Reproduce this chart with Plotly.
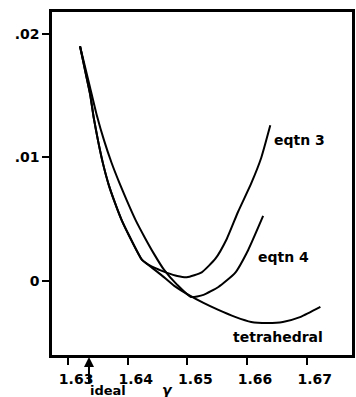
import plotly.graph_objects as go

# ---- data ----
eqtn3_x = [1.6320, 1.6330, 1.6337, 1.6343, 1.6350, 1.6358, 1.6368, 1.6378, 1.6390, 1.6403,
           1.6424, 1.6439, 1.6453, 1.6466, 1.6483, 1.6499, 1.6524, 1.6547, 1.6566, 1.6585,
           1.6607, 1.6624, 1.6639]
eqtn3_y = [0.0190, 0.0167, 0.0151, 0.0132, 0.0114, 0.0096, 0.0078, 0.0064, 0.0049, 0.0036,
           0.0017, 0.0012, 0.0009, 0.00065, 0.0004, 0.0003, 0.0007, 0.0018, 0.0034, 0.0056,
           0.0079, 0.0100, 0.0126]

eqtn4_x = [1.6320, 1.6337, 1.6348, 1.6360, 1.6373, 1.6386, 1.6398, 1.6413, 1.6428, 1.6444,
           1.6461, 1.6483, 1.6506, 1.6527, 1.6552, 1.6580, 1.6602, 1.6627]
eqtn4_y = [0.0190, 0.01563, 0.01344, 0.01142, 0.00955, 0.00794, 0.00656, 0.00494, 0.00356, 0.00219,
           0.00089, -0.00032, -0.00130, -0.00113, -0.00049, 0.00065, 0.00251, 0.00526]

tetra_x = [1.6320, 1.6330, 1.6337, 1.6343, 1.6350, 1.6358, 1.6368, 1.6378, 1.6390, 1.6403,
           1.6424, 1.6439, 1.6456, 1.6478, 1.6502, 1.6527, 1.6552, 1.6580, 1.6607, 1.6635,
           1.6660, 1.6690, 1.6723]
tetra_y = [0.0190, 0.0167, 0.0151, 0.0132, 0.0114, 0.0096, 0.0078, 0.0064, 0.0049, 0.0036,
           0.0017, 0.00113, 0.00049, -0.0004, -0.00113, -0.00178, -0.00235, -0.00291, -0.00332, -0.0034,
           -0.00332, -0.00291, -0.00211]

x_ticks = [1.63, 1.64, 1.65, 1.66, 1.67]
x_tick_text = ["1.63", "1.64", "1.65", "1.66", "1.67"]
y_ticks = [0.0, 0.01, 0.02]
y_tick_text = ["0", ".01", ".02"]
ideal_gamma = 1.6335
gamma_label_x = 1.6466

FONT = "DejaVu Sans"

fig = go.Figure()
for xs, ys in [(eqtn3_x, eqtn3_y), (eqtn4_x, eqtn4_y), (tetra_x, tetra_y)]:
    fig.add_trace(go.Scatter(x=xs, y=ys, mode="lines",
                             line=dict(color="black", width=2, shape="spline", smoothing=0.5),
                             showlegend=False, hoverinfo="skip"))

lbl = dict(family=FONT, size=14, color="black", weight="bold")
fig.add_annotation(x=1.6642, y=0.01142, text="eqtn 3", showarrow=False,
                   xanchor="left", yanchor="middle", font=lbl)
fig.add_annotation(x=1.6615, y=0.00194, text="eqtn 4", showarrow=False,
                   xanchor="left", yanchor="middle", font=lbl)
fig.add_annotation(x=1.6652, y=-0.00453, text="tetrahedral", showarrow=False,
                   xanchor="center", yanchor="middle", font=lbl)

# ideal arrow
fig.add_annotation(x=ideal_gamma, y=0, xref="x", yref="paper", text="", showarrow=True,
                   ax=0, ay=30, arrowhead=2, arrowsize=1, arrowwidth=2, arrowcolor="black",
                   standoff=2)
small = dict(family=FONT, size=13, color="black", weight="bold")
fig.add_annotation(x=ideal_gamma, y=0, xref="x", yref="paper", text="ideal", showarrow=False,
                   xanchor="left", yanchor="bottom", xshift=-1, yshift=-45, font=small)
fig.add_annotation(x=gamma_label_x, y=0, xref="x", yref="paper", text="<i>γ</i>", showarrow=False,
                   xanchor="center", yanchor="bottom", yshift=-45,
                   font=dict(family=FONT, size=14, color="black", weight="bold"))

axis_common = dict(showline=True, linecolor="black", linewidth=2.5, mirror=True,
                   ticks="outside", ticklen=7, tickwidth=2, tickcolor="black",
                   showgrid=False, zeroline=False,
                   tickfont=dict(family=FONT, size=14, color="black", weight="bold"))

fig.update_xaxes(range=[1.6273, 1.6776], tickvals=x_ticks, ticktext=x_tick_text,
                 ticklabelshift=8, ticklabelstandoff=2, **axis_common)
fig.update_yaxes(range=[-0.0060, 0.02178], tickvals=y_ticks, ticktext=y_tick_text,
                 **axis_common)

fig.update_layout(width=356, height=397, margin=dict(l=52, r=1, t=12, b=42),
                  plot_bgcolor="white", paper_bgcolor="white")

fig.write_html("out.html")
